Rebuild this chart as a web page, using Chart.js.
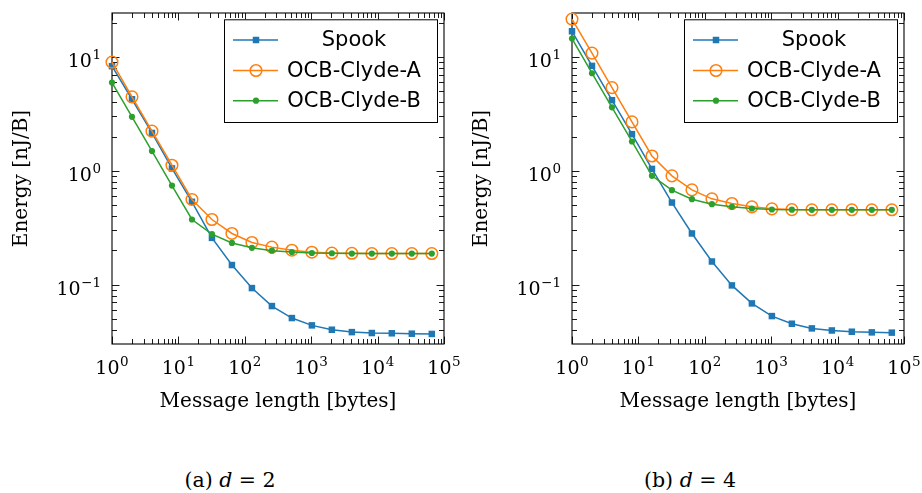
<!DOCTYPE html>
<html>
<head>
<meta charset="utf-8">
<script src="https://cdn.jsdelivr.net/npm/chart.js@4.4.1/dist/chart.umd.min.js"></script>
<style>
  html, body { margin: 0; padding: 0; background: #fff; }
  #wrap { position: relative; width: 922px; height: 493px; overflow: hidden; }
  canvas { position: absolute; top: 0; }
  .cap { position: absolute; top: 469px; width: 460px; text-align: center;
         font-family: "DejaVu Serif", serif; font-size: 20.5px; line-height: 22px; color: #000; white-space: pre; }
  .cap i { font-style: italic; }
</style>
</head>
<body>
<div id="wrap">
  <canvas id="c1" width="460" height="420" style="left:0px"></canvas>
  <canvas id="c2" width="460" height="420" style="left:460px"></canvas>
  <div class="cap" style="left:0px">(a) <i>d</i> = 2</div>
  <div class="cap" style="left:460px">(b) <i>d</i> = 4</div>
</div>
<script>
// ---- data ----
const messageLengths = [1, 2, 4, 8, 16, 32, 64, 128, 256, 512, 1024, 2048, 4096, 8192, 16384, 32768, 65536];

const spookD2  = [8.3, 4.25, 2.15, 1.05, 0.535, 0.258, 0.149, 0.0935, 0.065, 0.051, 0.044, 0.0403, 0.0384, 0.0377, 0.0375, 0.0372, 0.0370];
const clydeAD2 = [9.0, 4.46, 2.23, 1.12, 0.561, 0.374, 0.282, 0.235, 0.214, 0.201, 0.193, 0.190, 0.189, 0.188, 0.188, 0.188, 0.188];
const clydeBD2 = [5.96, 2.98, 1.49, 0.743, 0.374, 0.278, 0.233, 0.211, 0.199, 0.194, 0.190, 0.189, 0.188, 0.188, 0.188, 0.188, 0.188];

const spookD4  = [16.8, 8.34, 4.17, 2.10, 1.04, 0.527, 0.282, 0.160, 0.0987, 0.0686, 0.0531, 0.0455, 0.0414, 0.0397, 0.0387, 0.0382, 0.0380];
const clydeAD4 = [21.5, 10.8, 5.38, 2.69, 1.35, 0.904, 0.681, 0.568, 0.517, 0.483, 0.464, 0.457, 0.455, 0.455, 0.455, 0.455, 0.455];
const clydeBD4 = [14.5, 7.19, 3.61, 1.81, 0.904, 0.676, 0.564, 0.510, 0.483, 0.467, 0.458, 0.456, 0.455, 0.455, 0.455, 0.455, 0.455];

const seriesNames = ["Spook", "OCB-Clyde-A", "OCB-Clyde-B"];
const xLimits = [1, 100000];
const yLimits = [0.0302, 24.3];
const xTickExponents = ["0", "1", "2", "3", "4", "5"];
const yTickExponents = ["−1", "0", "1"];
const tickBase = "10";
const xTitle = "Message length [bytes]";
const yTitle = "Energy [nJ/B]";

// ---- styling ----
const COLORS = ["#1f77b4", "#ff7f0e", "#2ca02c"];
const SERIF = "'DejaVu Serif', serif";
const SANS = "'DejaVu Sans', sans-serif";

function pts(vals) { return messageLengths.map((x, i) => ({x: x, y: vals[i]})); }

function datasets(sp, a, b) {
  return [
    {label: seriesNames[0], data: pts(sp), borderColor: COLORS[0], borderWidth: 1.5,
     pointStyle: 'rect', pointRadius: 4.6, pointBackgroundColor: COLORS[0], pointBorderColor: COLORS[0],
     pointBorderWidth: 0, order: 2, clip: false},
    {label: seriesNames[1], data: pts(a), borderColor: COLORS[1], borderWidth: 1.5,
     pointStyle: 'circle', pointRadius: 5.8, pointBackgroundColor: 'rgba(255,255,255,0)', pointBorderColor: COLORS[1],
     pointBorderWidth: 1.5, order: 1, clip: false},
    {label: seriesNames[2], data: pts(b), borderColor: COLORS[2], borderWidth: 1.5,
     pointStyle: 'circle', pointRadius: 3.1, pointBackgroundColor: COLORS[2], pointBorderColor: COLORS[2],
     pointBorderWidth: 0, order: 0, clip: false}
  ];
}

function expLabelWidth(ctx, exp) {
  ctx.font = "19px " + SERIF;
  const w1 = ctx.measureText(tickBase).width;
  ctx.font = "13.5px " + SERIF;
  const w2 = ctx.measureText(exp).width;
  return [w1, w2];
}
function drawExpLabel(ctx, exp, x, baseline) {
  ctx.textAlign = 'left';
  ctx.textBaseline = 'alphabetic';
  ctx.fillStyle = '#000';
  const [w1] = expLabelWidth(ctx, exp);
  ctx.font = "19px " + SERIF;
  ctx.fillText(tickBase, x, baseline);
  ctx.font = "13.5px " + SERIF;
  ctx.fillText(exp, x + w1 + 0.5, baseline - 8);
}

const frameTicks = {
  id: 'frameTicks',
  beforeDatasetsDraw(chart) {
    const ctx = chart.ctx, ca = chart.chartArea;
    const xs = chart.scales.x, ys = chart.scales.y;
    ctx.save();
    ctx.strokeStyle = '#000';
    ctx.lineWidth = 0.9;
    for (let e = 0; e <= 5; e++) {
      for (let m = 1; m <= 9; m++) {
        const v = m * Math.pow(10, e);
        if (v < xLimits[0] || v > xLimits[1]) continue;
        const px = Math.round(xs.getPixelForValue(v)) + 0.5;
        const len = m === 1 ? 7.5 : 5;
        ctx.beginPath();
        ctx.moveTo(px, ca.bottom); ctx.lineTo(px, ca.bottom - len);
        ctx.moveTo(px, ca.top); ctx.lineTo(px, ca.top + len);
        ctx.stroke();
      }
    }
    for (let e = -2; e <= 1; e++) {
      for (let m = 1; m <= 9; m++) {
        const v = m * Math.pow(10, e);
        if (v < yLimits[0] || v > yLimits[1]) continue;
        const py = Math.round(ys.getPixelForValue(v)) + 0.5;
        const len = m === 1 ? 7.5 : 5;
        ctx.beginPath();
        ctx.moveTo(ca.left, py); ctx.lineTo(ca.left + len, py);
        ctx.moveTo(ca.right, py); ctx.lineTo(ca.right - len, py);
        ctx.stroke();
      }
    }
    ctx.lineWidth = 1.1;
    ctx.strokeRect(ca.left, ca.top, ca.right - ca.left, ca.bottom - ca.top);

    // tick labels 10^n with real superscripts, placed by the scales
    xTickExponents.forEach((exp, i) => {
      const px = xs.getPixelForValue(Math.pow(10, i));
      const [w1, w2] = expLabelWidth(ctx, exp);
      drawExpLabel(ctx, exp, px - (w1 + w2 + 0.5) / 2, ca.bottom + 30);
    });
    yTickExponents.forEach((exp, i) => {
      const py = ys.getPixelForValue(Math.pow(10, i - 1));
      const [w1, w2] = expLabelWidth(ctx, exp);
      drawExpLabel(ctx, exp, ca.left - 11 - (w1 + w2 + 0.5), py + 10.5);
    });
    ctx.restore();
  },
  afterDatasetsDraw(chart) {
    const ctx = chart.ctx, ca = chart.chartArea;
    const bx = ca.left + 112, by = ca.top + 6.3, bw = 213, bh = 102.7;
    ctx.save();
    ctx.fillStyle = '#fff';
    ctx.fillRect(bx, by, bw, bh);
    ctx.strokeStyle = '#000';
    ctx.lineWidth = 1;
    ctx.strokeRect(bx + 0.5, by + 0.5, bw, bh);
    const rows = [20.7, 51.2, 81.4];
    chart.data.datasets.forEach((ds, i) => {
      const y = by + rows[i];
      ctx.strokeStyle = ds.borderColor;
      ctx.lineWidth = ds.borderWidth;
      ctx.beginPath();
      ctx.moveTo(bx + 9, y); ctx.lineTo(bx + 54, y);
      ctx.stroke();
      ctx.fillStyle = ds.pointBackgroundColor;
      ctx.strokeStyle = ds.pointBorderColor;
      ctx.lineWidth = ds.pointBorderWidth;
      ctx.beginPath();
      if (ds.pointStyle === 'rect') {
        const s = ds.pointRadius * Math.SQRT1_2;
        ctx.rect(bx + 32 - s, y - s, 2 * s, 2 * s);
        ctx.fill();
      } else {
        ctx.arc(bx + 32, y, ds.pointRadius, 0, Math.PI * 2);
        ctx.fill();
        if (ds.pointBorderWidth > 0) ctx.stroke();
      }
      ctx.fillStyle = '#000';
      ctx.font = "21px " + SANS;
      ctx.textAlign = 'center';
      ctx.textBaseline = 'middle';
      ctx.fillText(ds.label, bx + 130, y + 1);
    });
    ctx.restore();
  }
};

function makeChart(id, sp, a, b) {
  return new Chart(document.getElementById(id), {
    type: 'line',
    data: {datasets: datasets(sp, a, b)},
    options: {
      responsive: false,
      animation: false,
      events: [],
      layout: {padding: {left: 10, right: 16, top: 13, bottom: 6}},
      plugins: {legend: {display: false}, tooltip: {enabled: false}},
      scales: {
        x: {
          type: 'logarithmic', min: xLimits[0], max: xLimits[1],
          grid: {display: false, drawTicks: false},
          border: {display: false},
          ticks: {display: false},
          title: {display: true, text: xTitle, color: '#000', font: {family: SERIF, size: 20}, padding: {top: 0, bottom: 0}},
          afterFit(s) { s.height = 70; s.paddingLeft = 0; s.paddingRight = 0; }
        },
        y: {
          type: 'logarithmic', min: yLimits[0], max: yLimits[1],
          grid: {display: false, drawTicks: false},
          border: {display: false},
          ticks: {display: false},
          title: {display: true, text: yTitle, color: '#000', font: {family: SERIF, size: 20}, padding: {top: 0, bottom: 0}},
          afterFit(s) { s.width = 102; s.paddingTop = 0; s.paddingBottom = 0; }
        }
      }
    },
    plugins: [frameTicks]
  });
}

makeChart('c1', spookD2, clydeAD2, clydeBD2);
makeChart('c2', spookD4, clydeAD4, clydeBD4);
</script>
</body>
</html>
